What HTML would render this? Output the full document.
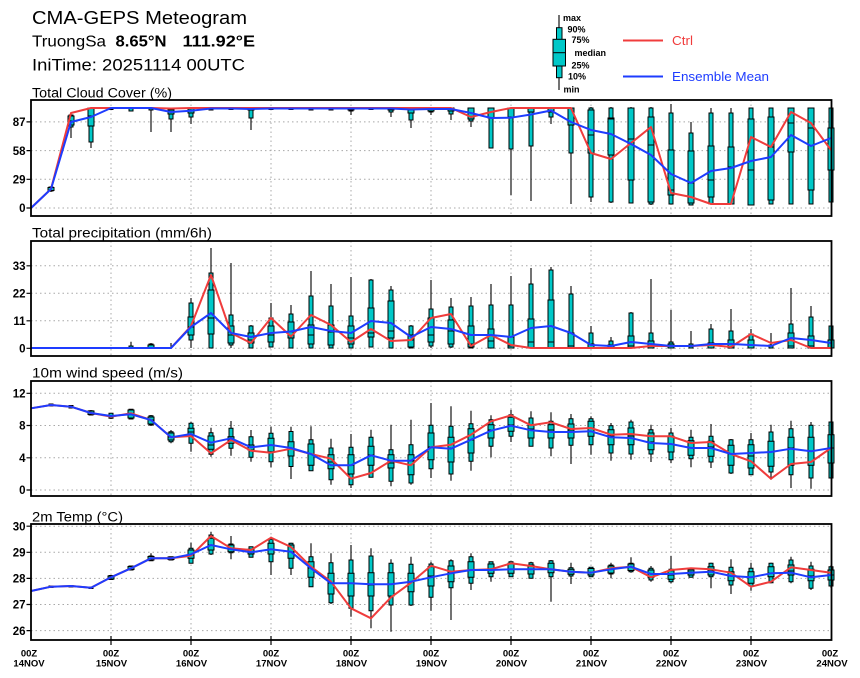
<!DOCTYPE html>
<html><head><meta charset="utf-8"><style>
html,body{margin:0;padding:0;background:#fff;}
svg{display:block;}
text{font-family:"Liberation Sans",Arial,sans-serif;}
.yl{font-size:11.5px;font-weight:bold;text-anchor:end;}
.xl{font-size:9.5px;font-weight:bold;text-anchor:middle;}
.pt{font-size:13.5px;}
.lg{font-size:9px;font-weight:bold;}
.grid{stroke:#a8a8a8;stroke-width:1;stroke-dasharray:1.5 3;fill:none;}
.frame{fill:none;stroke:#000;stroke-width:1.8;}
.wh{stroke:#000;stroke-width:1.1;fill:none;}
.bx{fill:#00c8c8;stroke:#000;stroke-width:1;}
.md{stroke:#000;stroke-width:1;fill:none;}
.rd{fill:none;stroke:#f03c3c;stroke-width:2;stroke-linejoin:round;}
.bl{fill:none;stroke:#1e3cff;stroke-width:2;stroke-linejoin:round;}
.tk{stroke:#000;stroke-width:1.2;}
</style></head><body>
<svg width="860" height="678" viewBox="0 0 860 678" xmlns="http://www.w3.org/2000/svg">
<rect width="860" height="678" fill="#fff"/>

<!-- Titles -->
<text x="32" y="24" font-size="18.5" textLength="215" lengthAdjust="spacingAndGlyphs">CMA-GEPS Meteogram</text>
<text x="32" y="46.7" font-size="16" textLength="74" lengthAdjust="spacingAndGlyphs">TruongSa</text>
<text x="115.5" y="46.7" font-size="16" font-weight="bold" textLength="51" lengthAdjust="spacingAndGlyphs">8.65°N</text>
<text x="182.5" y="46.7" font-size="16" font-weight="bold" textLength="72.5" lengthAdjust="spacingAndGlyphs">111.92°E</text>
<text x="32" y="70.7" font-size="17" textLength="213" lengthAdjust="spacingAndGlyphs">IniTime: 20251114 00UTC</text>

<!-- Legend -->
<path class="wh" d="M559 15V90"/>
<rect class="bx" x="556.5" y="27.7" width="5.5" height="50"/>
<rect class="bx" x="553" y="39.3" width="12.5" height="26.7"/>
<path class="md" d="M553 52.7h12.5"/>
<text class="lg" x="563" y="21">max</text>
<text class="lg" x="567.5" y="32.3">90%</text>
<text class="lg" x="571.5" y="43">75%</text>
<text class="lg" x="574.5" y="56">median</text>
<text class="lg" x="571.5" y="68.5">25%</text>
<text class="lg" x="568" y="79.5">10%</text>
<text class="lg" x="563.5" y="92.5">min</text>
<path class="rd" d="M623 40.5H663"/>
<text x="672" y="45" font-size="12.5" fill="#f03c3c" textLength="21" lengthAdjust="spacingAndGlyphs">Ctrl</text>
<path class="bl" d="M623 76.5H663"/>
<text x="672" y="81" font-size="12.5" fill="#1e3cff" textLength="97" lengthAdjust="spacingAndGlyphs">Ensemble Mean</text>

<!-- Panel titles -->
<text class="pt" x="32" y="97.3" textLength="140" lengthAdjust="spacingAndGlyphs">Total Cloud Cover (%)</text>
<text class="pt" x="32" y="237.5" textLength="180" lengthAdjust="spacingAndGlyphs">Total precipitation (mm/6h)</text>
<text class="pt" x="32" y="377.5" textLength="151" lengthAdjust="spacingAndGlyphs">10m wind speed (m/s)</text>
<text class="pt" x="32" y="521.5" textLength="91" lengthAdjust="spacingAndGlyphs">2m Temp (°C)</text>

<!-- Grids -->
<path class="grid" d="M111 100V216M191 100V216M271 100V216M351 100V216M431 100V216M511 100V216M591 100V216M671 100V216M751 100V216
M31 121.9H831M31 150.6H831M31 179.3H831M31 208H831"/>
<path class="grid" d="M111 241V356M191 241V356M271 241V356M351 241V356M431 241V356M511 241V356M591 241V356M671 241V356M751 241V356
M31 265.8H831M31 293.3H831M31 320.8H831M31 348.3H831"/>
<path class="grid" d="M111 381V496M191 381V496M271 381V496M351 381V496M431 381V496M511 381V496M591 381V496M671 381V496M751 381V496
M31 393.3H831M31 425.5H831M31 457.8H831M31 490H831"/>
<path class="grid" d="M111 524V640M191 524V640M271 524V640M351 524V640M431 524V640M511 524V640M591 524V640M671 524V640M751 524V640
M31 526.2H831M31 552.3H831M31 578.4H831M31 604.5H831M31 630.6H831"/>

<!-- Y tick marks -->
<path class="tk" d="M26.5 121.9H31M26.5 150.6H31M26.5 179.3H31M26.5 208H31
M26.5 265.8H31M26.5 293.3H31M26.5 320.8H31M26.5 348.3H31
M26.5 393.3H31M26.5 425.5H31M26.5 457.8H31M26.5 490H31
M26.5 526.2H31M26.5 552.3H31M26.5 578.4H31M26.5 604.5H31M26.5 630.6H31"/>
<!-- X tick marks -->
<path class="tk" d="M111 636V645M191 636V645M271 636V645M351 636V645M431 636V645M511 636V645M591 636V645M671 636V645M751 636V645"/>

<!-- Y labels -->
<text class="yl" x="25.5" y="126">87</text>
<text class="yl" x="25.5" y="154.8">58</text>
<text class="yl" x="25.5" y="183.5">29</text>
<text class="yl" x="25.5" y="212.2">0</text>
<text class="yl" x="25.5" y="270">33</text>
<text class="yl" x="25.5" y="297.5">22</text>
<text class="yl" x="25.5" y="325">11</text>
<text class="yl" x="25.5" y="352.5">0</text>
<text class="yl" x="25.5" y="397.5">12</text>
<text class="yl" x="25.5" y="429.7">8</text>
<text class="yl" x="25.5" y="462">4</text>
<text class="yl" x="25.5" y="494.2">0</text>
<text class="yl" x="25.5" y="530.4">30</text>
<text class="yl" x="25.5" y="556.5">29</text>
<text class="yl" x="25.5" y="582.6">28</text>
<text class="yl" x="25.5" y="608.7">27</text>
<text class="yl" x="25.5" y="634.8">26</text>

<!-- X labels -->
<g class="xl">
<text x="29" y="656.7">00Z</text><text x="29" y="666.7">14NOV</text>
<text x="111" y="656.7">00Z</text><text x="111.5" y="666.7">15NOV</text>
<text x="191" y="656.7">00Z</text><text x="191.5" y="666.7">16NOV</text>
<text x="271" y="656.7">00Z</text><text x="271.5" y="666.7">17NOV</text>
<text x="351" y="656.7">00Z</text><text x="351.5" y="666.7">18NOV</text>
<text x="431" y="656.7">00Z</text><text x="431.5" y="666.7">19NOV</text>
<text x="511" y="656.7">00Z</text><text x="511.5" y="666.7">20NOV</text>
<text x="591" y="656.7">00Z</text><text x="591.5" y="666.7">21NOV</text>
<text x="671" y="656.7">00Z</text><text x="671.5" y="666.7">22NOV</text>
<text x="751" y="656.7">00Z</text><text x="751.5" y="666.7">23NOV</text>
<text x="830" y="656.7">00Z</text><text x="832" y="666.7">24NOV</text>
</g>

<!-- ========== Panel 1: cloud cover ========== -->
<path class="wh" d="M51 186V192M71 112.7V138M91 108V148M151 108V132M171 108V132M191 108V124M251 108V130M351 108V115M391 108V117M411 108V128M431 108V115M451 108V120M471 108V127M491 108V148M511 108V195M531 108V201M551 108V124M571 108V204M591 107V202M611 107V203M631 107V203M651 107V205M671 104V204M691 122V205M711 108V204M731 108V204M751 108V205M771 108V204M791 108V204M811 108V204M831 108V202"/>
<path class="bx" d="M49 187h4V191h-4ZM69 115h4V127h-4ZM89 108h4V142h-4ZM109 108h4V109.5h-4ZM129 108h4V111h-4ZM149 108h4V110h-4ZM169 108h4V119h-4ZM189 108h4V117h-4ZM209 108h4V110h-4ZM229 108h4V109.5h-4ZM249 108h4V118h-4ZM269 108h4V109.5h-4ZM289 108h4V109.5h-4ZM309 108h4V110h-4ZM329 108h4V110h-4ZM349 108h4V111h-4ZM369 108h4V109.5h-4ZM389 108h4V112h-4ZM409 108h4V120h-4ZM429 108h4V112h-4ZM449 108h4V114h-4ZM469 108h4V121h-4ZM489 108h4V148h-4ZM509 108h4V149h-4ZM529 108h4V146h-4ZM549 108h4V117h-4ZM569 108h4V153h-4ZM589 108h4V197h-4ZM609 108h4V202h-4ZM629 108h4V203h-4ZM649 108h4V204h-4ZM669 113h4V204h-4ZM689 133h4V205h-4ZM709 113h4V204h-4ZM729 113h4V204h-4ZM749 108h4V205h-4ZM769 108h4V204h-4ZM789 108h4V204h-4ZM809 108h4V204h-4ZM829 108h4V202h-4Z"/>
<path class="bx" d="M48 187.5h6V190.5h-6ZM68 116h6V125h-6ZM88 108h6V126h-6ZM168 108h6V114h-6ZM188 108h6V113h-6ZM248 108h6V110h-6ZM348 108h6V110h-6ZM388 108h6V110h-6ZM408 108h6V113h-6ZM428 108h6V111h-6ZM448 108h6V111h-6ZM468 108h6V119h-6ZM488 108h6V118h-6ZM508 108h6V117h-6ZM528 108h6V112h-6ZM548 108h6V112h-6ZM568 108h6V125h-6ZM588 110h6V153h-6ZM608 118h6V155h-6ZM628 108h6V180h-6ZM648 117h6V202h-6ZM668 150h6V195h-6ZM688 151h6V203h-6ZM708 146h6V197h-6ZM728 147h6V204h-6ZM748 119h6V205h-6ZM768 117h6V200h-6ZM788 108h6V152h-6ZM808 108h6V190h-6ZM828 128h6V170h-6Z"/>
<path class="md" d="M68 121h6M88 116h6M168 110h6M188 110h6M408 110h6M468 113h6M488 112h6M588 135h6M608 119h6M628 139h6M648 145h6M668 190h6M688 183h6M708 180h6M728 167h6M748 170h6M768 147h6M788 123h6M808 128h6M828 128h6"/>
<polyline class="rd" points="31,208 51,189 71,113 91,108 111,108 131,108 151,108 171,108.5 191,108 211,108 231,108 251,108 271,108 291,108 311,108 331,108 351,108 371,108 391,108 411,108 431,108 451,108 471,117 491,112 511,108 531,108 551,108 571,108 591,153 611,159 631,143 651,127 671,193 691,197 711,204 731,204 751,137 771,147 791,112 811,123 831,150"/>
<polyline class="bl" points="31,208 51,189 71,122 91,117 111,108 131,108 151,108 171,112 191,110.7 211,108.5 231,108.5 251,109 271,108.5 291,108.5 311,108.5 331,108.5 351,108.5 371,108.5 391,108.5 411,109.5 431,109 451,109 471,113 491,118 511,117.7 531,114.5 551,110.5 571,122 591,130 611,134 631,144 651,155 671,174 691,183 711,171 731,168 751,161 771,157 791,135 811,146 831,138"/>

<!-- ========== Panel 2: precipitation ========== -->
<path class="wh" d="M131 341.7V348M151 343V348M171 343V348M191 298V348M211 248V348M231 263V348M251 325V348M271 303V347M291 305V347M311 271V348M331 284V348M351 277V348M371 279V347M391 286V348M411 325V348M431 280V348M451 298V348M471 297V348M491 284V348M511 276V348M531 268V348M551 267V348M571 286V348M591 326V348M611 337V348M631 312V348M651 279V348M671 310V348M691 331V348M711 324V348M731 309V348M751 329V348M771 333V348M791 288V348M811 306V348M831 326V348"/>
<path class="bx" d="M129 346h4V348h-4ZM149 344h4V348h-4ZM189 303h4V340h-4ZM209 273h4V348h-4ZM229 315h4V345h-4ZM249 326h4V348h-4ZM269 318h4V347h-4ZM289 314h4V348h-4ZM309 296h4V348h-4ZM329 306h4V348h-4ZM349 316h4V348h-4ZM369 280h4V347h-4ZM389 290h4V348h-4ZM409 326h4V348h-4ZM429 309h4V346h-4ZM449 307h4V347h-4ZM469 306h4V348h-4ZM489 305h4V348h-4ZM509 305h4V348h-4ZM529 284h4V348h-4ZM549 270h4V348h-4ZM569 294h4V348h-4ZM589 333h4V348h-4ZM609 341h4V348h-4ZM629 313h4V348h-4ZM649 333h4V348h-4ZM669 342h4V348h-4ZM689 344h4V348h-4ZM709 329h4V348h-4ZM729 331h4V348h-4ZM749 334h4V348h-4ZM769 345h4V348h-4ZM789 324h4V348h-4ZM809 317h4V348h-4ZM829 326h4V348h-4Z"/>
<path class="bx" d="M148 345h6V348h-6ZM188 317h6V335h-6ZM208 290h6V334h-6ZM228 326h6V343h-6ZM248 333h6V343h-6ZM268 326h6V342h-6ZM288 322h6V338h-6ZM308 325h6V344h-6ZM328 325h6V345h-6ZM348 326h6V344h-6ZM368 308h6V337h-6ZM388 301h6V338h-6ZM408 335h6V347h-6ZM428 318h6V342h-6ZM448 320h6V344h-6ZM468 326h6V347h-6ZM488 329h6V348h-6ZM508 337h6V348h-6ZM528 319h6V348h-6ZM548 300h6V348h-6ZM568 333h6V348h-6ZM588 344h6V348h-6ZM608 345h6V348h-6ZM628 336h6V348h-6ZM648 341h6V348h-6ZM668 344h6V348h-6ZM708 343h6V348h-6ZM728 340h6V348h-6ZM748 340h6V348h-6ZM788 333h6V348h-6ZM808 336h6V348h-6ZM828 340h6V348h-6Z"/>
<path class="md" d="M188 327h6M208 318h6M228 335h6M248 340h6M268 335h6M288 332h6M308 335h6M328 332h6M348 338h6M368 333h6M388 331h6M408 340h6M428 335h6M448 331h6M468 344h6M488 341h6M508 346h6M528 342h6M548 342h6M568 346h6M628 346h6M788 346h6M808 346h6"/>
<polyline class="rd" points="31,348 51,348 71,348 91,348 111,348 131,348 151,348 171,348 191,326 211,275 231,333 251,343 271,318 291,336.5 311,315 331,325 351,342 371,329 391,341 411,340 431,318 451,314 471,346 491,335 511,345 531,348 551,348 571,348 591,348 611,348 631,348 651,346 671,346 691,346 711,345 731,347 751,334 771,343 791,340 811,348 831,348"/>
<polyline class="bl" points="31,348 51,348 71,348 91,348 111,348 131,348 151,348 171,348 191,327 211,313 231,333 251,337 271,333 291,331.5 311,327 331,331 351,333 371,321 391,323 411,337 431,327 451,329 471,335 491,335 511,337 531,328 551,326 571,333 591,345 611,346 631,342 651,344 671,346 691,346 711,344 731,344 751,345 771,346 791,338 811,340 831,343"/>

<!-- ========== Panel 3: wind ========== -->
<path class="wh" d="M51 404V406M71 405.5V408M91 410V415.5M111 413V419M131 409V419.5M151 415V426M171 430V443.3M191 421.7V451.7M211 427.7V456.7M231 421V455.7M251 430V461.7M271 426.7V467.3M291 426.7V479M311 426.3V470.7M331 438.7V484.7M351 434V488M371 429.7V477.3M391 424.7V486.3M411 419.7V484.7M431 403V478M451 406.3V480.7M471 410.7V470.7M491 415.3V457.3M511 409.7V442M531 411.3V446.3M551 412.3V456.3M571 414V464M591 416.3V454.7M611 423V460.7M631 419.7V459.7M651 424.7V462M671 428V463M691 429.7V467.3M711 424V468M731 439V474M751 433V474.7M771 424.7V479.7M791 420.7V488M811 422V488.7M831 422V478"/>
<path class="bx" d="M49 404h4V406h-4ZM69 405.5h4V408h-4ZM89 410.7h4V415h-4ZM109 413.3h4V418.3h-4ZM129 409.3h4V419h-4ZM149 415.7h4V425h-4ZM169 431.7h4V441.7h-4ZM189 423.3h4V443.3h-4ZM209 432.7h4V454.3h-4ZM229 428.3h4V448.3h-4ZM249 436.7h4V457.3h-4ZM269 433.3h4V461.7h-4ZM289 431.5h4V466.5h-4ZM309 439.7h4V470.7h-4ZM329 448h4V479.7h-4ZM349 447.3h4V484.7h-4ZM369 437.3h4V477.3h-4ZM389 449.7h4V481.3h-4ZM409 444.7h4V483h-4ZM429 425.3h4V468.7h-4ZM449 426.3h4V474h-4ZM469 423.7h4V461.3h-4ZM489 419.7h4V446.3h-4ZM509 414.7h4V436.3h-4ZM529 418h4V446.3h-4ZM549 421.3h4V448h-4ZM569 418.7h4V445.3h-4ZM589 418.7h4V444.7h-4ZM609 425.7h4V453h-4ZM629 422h4V454h-4ZM649 429.7h4V454h-4ZM669 433h4V459.7h-4ZM689 437.3h4V458.7h-4ZM709 436.3h4V462h-4ZM729 439.7h4V473h-4ZM749 439.7h4V474.7h-4ZM769 432h4V472h-4ZM789 428.7h4V474.7h-4ZM809 425.3h4V478h-4ZM829 422h4V478h-4Z"/>
<path class="bx" d="M88 411h6V414.5h-6ZM128 410h6V418h-6ZM148 417h6V424h-6ZM168 433h6V440h-6ZM188 428.3h6V435h-6ZM208 436h6V449.3h-6ZM228 436.7h6V443.3h-6ZM248 445h6V450h-6ZM268 438.3h6V451.7h-6ZM288 441.7h6V456h-6ZM308 444h6V465.3h-6ZM328 454.7h6V468.7h-6ZM348 454.7h6V474h-6ZM368 446.3h6V465.3h-6ZM388 454.7h6V468h-6ZM408 454.7h6V474.7h-6ZM428 433h6V459.7h-6ZM448 437.3h6V462h-6ZM468 428.7h6V453h-6ZM488 424.7h6V438h-6ZM508 417.3h6V431.3h-6ZM528 424.7h6V438h-6ZM548 424.7h6V438h-6ZM568 424h6V438h-6ZM588 421.3h6V436.3h-6ZM608 429.7h6V444.7h-6ZM628 428h6V444.7h-6ZM648 433h6V449.7h-6ZM668 436.3h6V452h-6ZM688 440.7h6V455.3h-6ZM708 441.3h6V456.3h-6ZM728 445.3h6V465.3h-6ZM748 444.7h6V468h-6ZM768 441.3h6V466.3h-6ZM788 437.3h6V465.3h-6ZM808 437.3h6V465.3h-6ZM828 434.7h6V463h-6Z"/>
<path class="md" d="M128 414h6M148 420h6M168 437h6M188 432h6M208 445h6M228 440h6M248 447h6M268 445h6M288 449h6M308 454h6M328 462h6M348 465.3h6M368 455h6M388 463h6M408 461h6M428 447h6M448 448h6M468 440h6M488 430h6M508 425h6M528 429h6M548 430h6M568 430h6M588 428h6M608 436h6M628 436h6M648 442h6M668 444h6M688 448h6M708 447h6M728 454h6M748 456h6M768 452h6M788 448h6M808 451h6M828 448h6"/>
<polyline class="rd" points="31,408.3 51,405 71,406.7 91,413 111,416.7 131,413.3 151,420 171,437.3 191,436 211,453.3 231,440 251,450.7 271,452.7 291,448.7 311,454 331,458.7 351,478.7 371,473 391,460.7 411,465.3 431,447.3 451,444.7 471,434.7 491,421.3 511,415.3 531,425.3 551,422.3 571,429 591,428 611,434.7 631,434 651,436.3 671,436.3 691,443 711,442 731,454 751,461.3 771,478.7 791,464 811,462 831,448"/>
<polyline class="bl" points="31,408.3 51,405 71,406.7 91,413 111,416 131,414.3 151,420 171,437.3 191,434 211,442.7 231,438.3 251,447.3 271,445 291,448 311,454 331,465.3 351,465.3 371,455.3 391,460.7 411,460.7 431,447.3 451,448.7 471,439.7 491,430.7 511,425.7 531,430.3 551,432 571,432 591,431.3 611,437.3 631,438 651,443 671,444 691,448 711,448 731,454 751,453 771,452 791,448.7 811,451.3 831,448"/>

<!-- ========== Panel 4: temperature ========== -->
<path class="wh" d="M51 586V587.5M71 585.5V587M91 587V588.5M111 575V580M131 565.5V570.5M151 553.3V561M171 556.7V560M191 542.7V563.3M211 531.7V555M231 536V559.3M251 546.7V557.3M271 536.7V575M291 542.7V575M311 543.3V586.7M331 553.3V604M351 545V616.7M371 548.3V628.3M391 559.3V631.7M411 556.7V606M431 561.7V610.7M451 559.3V620M471 553.3V590M491 561.7V581.7M511 561.7V576.7M531 561.7V578.3M551 560V601.7M571 562.7V584M591 567.3V576.7M611 562.7V578.3M631 557.3V572.7M651 566V581.7M671 556V583.3M691 568.3V577.3M711 562.7V588.3M731 559.3V594M751 562.7V590.7M771 562.7V583.3M791 556.7V583.3M811 561.7V590M831 565V588"/>
<path class="bx" d="M49 586h4V587.5h-4ZM69 585.5h4V587h-4ZM89 587h4V588.5h-4ZM109 575.5h4V579.5h-4ZM129 566h4V570h-4ZM149 556h4V560.7h-4ZM169 556.7h4V560h-4ZM189 548.3h4V563.3h-4ZM209 535h4V554h-4ZM229 544h4V552.7h-4ZM249 546.7h4V557.3h-4ZM269 539.3h4V561.7h-4ZM289 543.3h4V568.3h-4ZM309 556.7h4V586.7h-4ZM329 562.7h4V602.7h-4ZM349 560h4V608.3h-4ZM369 556h4V610.7h-4ZM389 563.3h4V605h-4ZM409 564.3h4V605h-4ZM429 564h4V597.3h-4ZM449 560.7h4V587.7h-4ZM469 556.7h4V583.3h-4ZM489 561.7h4V576.7h-4ZM509 561.7h4V576.7h-4ZM529 562.7h4V578.3h-4ZM549 560.7h4V576.7h-4ZM569 567.7h4V576h-4ZM589 567.3h4V576.7h-4ZM609 565h4V574h-4ZM629 563.3h4V571.7h-4ZM649 568.3h4V580h-4ZM669 569.3h4V581.7h-4ZM689 568.3h4V577.3h-4ZM709 563.3h4V576.7h-4ZM729 567.3h4V585h-4ZM749 568.3h4V586h-4ZM769 563.3h4V582.7h-4ZM789 560h4V581.7h-4ZM809 566h4V588.3h-4ZM829 566.7h4V586h-4Z"/>
<path class="bx" d="M108 576h6V579h-6ZM128 566.5h6V569.5h-6ZM148 556.5h6V560h-6ZM168 557h6V559.5h-6ZM188 550h6V558.3h-6ZM208 538.3h6V550h-6ZM228 545h6V551.7h-6ZM248 549.3h6V554h-6ZM268 543.3h6V554h-6ZM288 545h6V558.3h-6ZM308 561.7h6V577.3h-6ZM328 573.3h6V594h-6ZM348 573.3h6V596h-6ZM368 572.7h6V596h-6ZM388 572.7h6V596h-6ZM408 573.3h6V591.7h-6ZM428 566.7h6V586h-6ZM448 566h6V581.7h-6ZM468 561.7h6V577.3h-6ZM488 564h6V573.3h-6ZM508 563.3h6V573.3h-6ZM528 565h6V574h-6ZM548 563.3h6V572.7h-6ZM568 569.3h6V574.3h-6ZM588 568.5h6V575h-6ZM608 566h6V573h-6ZM628 564h6V570.5h-6ZM648 570h6V577.3h-6ZM668 570.7h6V579.3h-6ZM688 570h6V575h-6ZM708 566.7h6V575h-6ZM728 571.7h6V580.7h-6ZM748 571.7h6V583.3h-6ZM768 566.7h6V576.7h-6ZM788 565h6V575h-6ZM808 569.3h6V580.7h-6ZM828 570h6V580h-6Z"/>
<path class="md" d="M188 555h6M208 545h6M228 548h6M248 552h6M268 549h6M288 552h6M308 568h6M328 583h6M348 583.3h6M368 585h6M388 584h6M408 582h6M428 576h6M448 573h6M468 570h6M488 570h6M508 569h6M528 569h6M548 569h6M568 572h6M588 572h6M608 569h6M628 567h6M648 574h6M668 575h6M688 572h6M708 571h6M728 576h6M748 577h6M768 573h6M788 571h6M808 576h6M828 575h6"/>
<polyline class="rd" points="31,591 51,586.7 71,586 91,587.7 111,577.3 131,568.3 151,558.3 171,558.3 191,555.7 211,536 231,548.3 251,550 271,537.7 291,547 311,566.7 331,581.7 351,608.3 371,618.3 391,597.3 411,582.7 431,565.7 451,571.7 471,570 491,569.3 511,563.3 531,566 551,569.3 571,571.7 591,572.7 611,568.3 631,566.7 651,577.3 671,570 691,568.3 711,569.3 731,572.7 751,586.7 771,581.7 791,567.3 811,570 831,572.7"/>
<polyline class="bl" points="31,591 51,586.7 71,586 91,587.7 111,577.3 131,568.3 151,558.3 171,558.3 191,554.3 211,545 231,549.3 251,552.3 271,549.3 291,551.7 311,568.3 331,583.3 351,583.3 371,584.3 391,584.3 411,581.7 431,577.3 451,573.3 471,570 491,570 511,569.3 531,569.3 551,569.3 571,571.7 591,572.7 611,569.3 631,566.7 651,574 671,574 691,572.7 711,571.7 731,576 751,577.3 771,573.3 791,572.7 811,577.3 831,575"/>

<!-- Frames -->
<rect class="frame" x="31" y="100" width="800.5" height="116"/>
<rect class="frame" x="31" y="241" width="800.5" height="115"/>
<rect class="frame" x="31" y="381" width="800.5" height="115"/>
<rect class="frame" x="31" y="524" width="800.5" height="116"/>
</svg>
</body></html>
